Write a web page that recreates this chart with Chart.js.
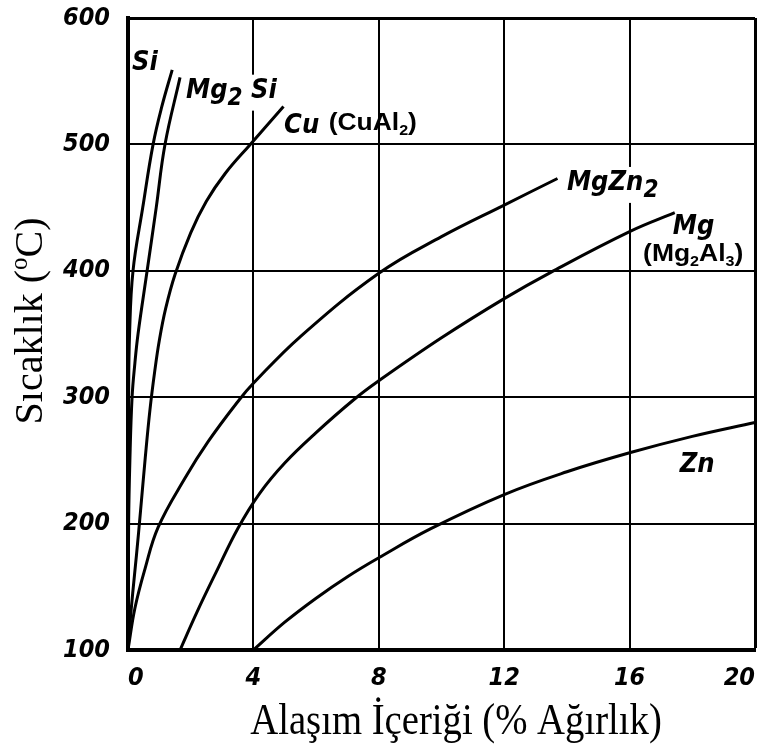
<!DOCTYPE html>
<html>
<head>
<meta charset="utf-8">
<script src="https://cdn.jsdelivr.net/npm/chart.js@4.4.0/dist/chart.umd.min.js"></script>
<style>
html,body{margin:0;padding:0;background:#fff;}
#wrap{width:762px;height:756px;position:relative;}
</style>
</head>
<body>
<div id="wrap"><canvas id="c" width="762" height="756"></canvas></div>
<script>
// ---- data ----
const xTickValues = [0, 4, 8, 12, 16, 20];
const yTickValues = [100, 200, 300, 400, 500, 600];

const siX    = [0, 0.01, 0.02, 0.05, 0.16, 0.47, 0.8, 1.08, 1.41];
const siY    = [100, 200, 300, 350, 400, 450, 500, 530, 559];

const mg2siX = [0, 0.02, 0.06, 0.13, 0.22, 0.32, 0.61, 0.9, 1.18, 1.66];
const mg2siY = [100, 200, 250, 300, 327, 350, 400, 450, 500, 553];

const cuX    = [0, 0.06, 0.15, 0.27, 0.4, 0.55, 0.7, 0.85, 1.0, 1.2, 1.5, 2.0, 2.5, 3.1, 3.9, 4.96];
const cuY    = [100, 120, 145, 175, 210, 252, 290, 320, 345, 370, 397, 430, 455, 477, 500, 530];

const mgzn2X = [0, 0.22, 0.54, 0.96, 1.82, 2.56, 3.55, 4, 5.5, 8, 10, 12, 13.7];
const mgzn2Y = [100, 133, 164, 197, 236, 265, 298, 311, 348, 398, 427, 452, 473];

const mgX    = [1.66, 2.2, 2.8, 3.5, 4.2, 5, 6, 7.2, 8, 10, 12, 13.5, 16, 17.44];
const mgY    = [100, 130, 161, 196, 224, 248, 272, 298, 313, 347, 378, 399, 431, 446];

const znX    = [4, 5, 6, 7, 8, 9.66, 12, 14, 16, 18, 20];
const znY    = [100, 122, 141, 158, 173, 196, 223, 241, 256, 269, 280];

const seriesNames = ['Si', 'Mg2Si', 'Cu', 'MgZn2', 'Mg', 'Zn'];
const seriesXs = [siX, mg2siX, cuX, mgzn2X, mgX, znX];
const seriesYs = [siY, mg2siY, cuY, mgzn2Y, mgY, znY];

// curve labels ('|' toggles subscript) and their anchor in data units
const labelTexts = ['Si', 'Mg|2| Si', 'Cu', '(CuAl|2|)', 'MgZn|2', 'Mg', '(Mg|2|Al|3|)', 'Zn'];
const labelAtX   = [0.13, 1.85, 4.98, 6.4, 14.0, 17.38, 16.43, 17.6];
const labelAtY   = [559, 537, 509, 511, 464, 429, 408, 241];
const labelKind  = ['it', 'it', 'it', 'paren', 'it', 'it', 'paren', 'it'];
const labelMask  = [false, true, false, false, true, false, false, false];

const xTitle = 'Alaşım İçeriği (% Ağırlık)';
const yTitleParts = ['Sıcaklık (', 'o', 'C)'];

// ---- styles ----
const italicFamily = "'DejaVu Sans Condensed', 'DejaVu Sans', sans-serif";
const styles = {
  it:    { family: italicFamily, style: 'italic bold', size: 27, subSize: 24, subDy: 7, sx: 1 },
  paren: { family: "'Liberation Sans', Arial, sans-serif", style: 'bold', size: 23, subSize: 14, subDy: 5, sx: 1.15 }
};

const datasets = seriesNames.map((name, i) => ({
  label: name,
  data: seriesXs[i].map((x, k) => ({ x: x, y: seriesYs[i][k] })),
  borderColor: '#000',
  borderWidth: 3,
  pointRadius: 0,
  fill: false,
  tension: 0.4,
  clip: 3
}));

const textPlugin = {
  id: 'texts',
  afterDatasetsDraw(chart) {
    const { ctx, scales } = chart;
    labelTexts.forEach((txt, i) => {
      const st = styles[labelKind[i]];
      const px = scales.x.getPixelForValue(labelAtX[i]);
      const py = scales.y.getPixelForValue(labelAtY[i]);
      const segs = txt.split('|').map((t, k) => ({ t: t, sub: k % 2 === 1 }));
      ctx.save();
      ctx.textBaseline = 'alphabetic';
      ctx.textAlign = 'left';
      let w = 0;
      segs.forEach(s => {
        ctx.font = st.style + ' ' + (s.sub ? st.subSize : st.size) + 'px ' + st.family;
        s.w = ctx.measureText(s.t).width;
        w += s.w;
      });
      ctx.translate(px, py);
      ctx.scale(st.sx, 1);
      if (labelMask[i]) {
        ctx.fillStyle = '#fff';
        ctx.fillRect(-1, -st.size * 0.85, w + 2, st.size * 0.85 + st.subDy + 6);
      }
      ctx.fillStyle = '#000';
      let cx = 0;
      segs.forEach(s => {
        ctx.font = st.style + ' ' + (s.sub ? st.subSize : st.size) + 'px ' + st.family;
        ctx.fillText(s.t, cx, s.sub ? st.subDy : 0);
        cx += s.w;
      });
      ctx.restore();
    });
  },
  afterDraw(chart) {
    const ctx = chart.ctx;
    // x axis title
    ctx.save();
    ctx.fillStyle = '#000';
    ctx.font = "45px 'Liberation Serif', 'Times New Roman', serif";
    ctx.textBaseline = 'alphabetic';
    ctx.textAlign = 'center';
    ctx.translate(456, 734);
    ctx.scale(0.86, 1);
    ctx.fillText(xTitle, 0, 0);
    ctx.restore();
    // y axis title
    ctx.save();
    ctx.fillStyle = '#000';
    ctx.textBaseline = 'alphabetic';
    ctx.textAlign = 'left';
    const big = "40px 'Liberation Serif', 'Times New Roman', serif";
    const small = "25px 'Liberation Serif', 'Times New Roman', serif";
    ctx.font = big; const w0 = ctx.measureText(yTitleParts[0]).width;
    ctx.font = small; const w1 = ctx.measureText(yTitleParts[1]).width;
    ctx.font = big; const w2 = ctx.measureText(yTitleParts[2]).width;
    const total = w0 + w1 + w2;
    ctx.translate(42, 321);
    ctx.rotate(-Math.PI / 2);
    let sx = -total / 2;
    ctx.font = big; ctx.fillText(yTitleParts[0], sx, 0); sx += w0;
    ctx.font = small; ctx.fillText(yTitleParts[1], sx, -15); sx += w1;
    ctx.font = big; ctx.fillText(yTitleParts[2], sx, 0);
    ctx.restore();
  }
};

const tickFont = { family: italicFamily, style: 'italic', weight: 'bold', size: 25 };

new Chart(document.getElementById('c'), {
  type: 'line',
  data: { datasets: datasets },
  options: {
    responsive: false,
    animation: false,
    devicePixelRatio: 1,
    layout: { padding: { top: 18, right: 7, left: 0, bottom: 0 } },
    plugins: { legend: { display: false }, tooltip: { enabled: false } },
    scales: {
      x: {
        type: 'linear',
        min: 0, max: 20,
        afterBuildTicks: s => { s.ticks = xTickValues.map(v => ({ value: v })); },
        afterFit: s => { s.height = 106; s.paddingLeft = 0; s.paddingRight = 0; },
        ticks: { color: '#000', font: tickFont, padding: 13, align: 'inner', maxRotation: 0 },
        grid: { color: '#000', lineWidth: c => (c.tick && c.tick.value === 20 ? 3 : 2), drawTicks: false },
        border: { display: true, color: '#000', width: 4 }
      },
      y: {
        type: 'linear',
        min: 100, max: 600,
        afterBuildTicks: s => { s.ticks = yTickValues.map(v => ({ value: v })); },
        afterFit: s => { s.width = 128; s.paddingTop = 0; s.paddingBottom = 0; },
        ticks: { color: '#000', font: tickFont, padding: 18 },
        grid: { color: '#000', lineWidth: c => (c.tick && c.tick.value === 600 ? 3 : 2), drawTicks: false },
        border: { display: true, color: '#000', width: 4 }
      }
    }
  },
  plugins: [textPlugin]
});
</script>
</body>
</html>
